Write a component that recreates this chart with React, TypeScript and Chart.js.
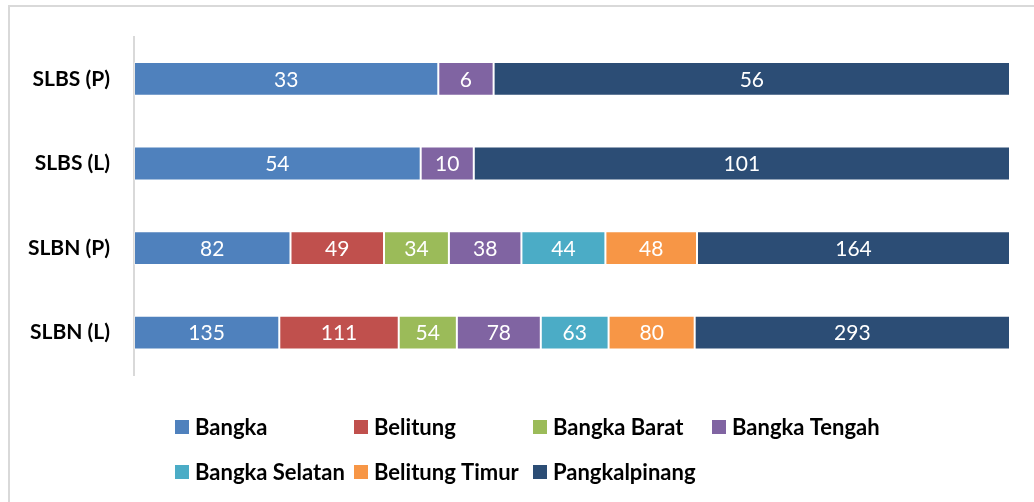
import React, { useEffect, useRef } from "react";
import { Chart, registerables } from "chart.js";

Chart.register(...registerables);

const categories = ["SLBS (P)", "SLBS (L)", "SLBN (P)", "SLBN (L)"];
const seriesNames = ["Bangka", "Belitung", "Bangka Barat", "Bangka Tengah", "Bangka Selatan", "Belitung Timur", "Pangkalpinang"];
const bangka = [33, 54, 82, 135];
const belitung = [0, 0, 49, 111];
const bangkaBarat = [0, 0, 34, 54];
const bangkaTengah = [6, 10, 38, 78];
const bangkaSelatan = [0, 0, 44, 63];
const belitungTimur = [0, 0, 48, 80];
const pangkalpinang = [56, 101, 164, 293];
const seriesColors = ["#4F81BD", "#C0504D", "#9BBB59", "#8064A2", "#4BACC6", "#F79646", "#2C4D75"];

const allSeries = [bangka, belitung, bangkaBarat, bangkaTengah, bangkaSelatan, belitungTimur, pangkalpinang];
const totals = categories.map((_, i) => allSeries.reduce((s, arr) => s + arr[i], 0));

const FONT = "Lato, 'Open Sans', sans-serif";

const frameAndLabels = {
  id: "frameAndLabels",
  beforeDraw(chart: any) {
    const ctx = chart.ctx;
    ctx.save();
    ctx.strokeStyle = "#D9D9D9";
    ctx.lineWidth = 2;
    ctx.beginPath();
    ctx.moveTo(9, chart.height + 2);
    ctx.lineTo(9, 6);
    ctx.lineTo(chart.width + 2, 6);
    ctx.stroke();
    ctx.restore();
  },
  afterDatasetsDraw(chart: any) {
    const ctx = chart.ctx;
    ctx.save();
    ctx.fillStyle = "#FFFFFF";
    ctx.font = `21px ${FONT}`;
    ctx.textAlign = "center";
    ctx.textBaseline = "middle";
    chart.data.datasets.forEach((ds: any, di: number) => {
      const meta = chart.getDatasetMeta(di);
      meta.data.forEach((bar: any, i: number) => {
        const raw = ds.rawValues[i];
        if (!raw) return;
        const x = (bar.x + bar.base) / 2;
        ctx.fillText(String(raw), x, bar.y + 1);
      });
    });
    ctx.restore();
  },
  afterDraw(chart: any) {
    const ctx = chart.ctx;
    const cols = [175, 354, 533, 712];
    const rows = [427, 472];
    ctx.save();
    ctx.font = `bold 22px ${FONT}`;
    ctx.textBaseline = "middle";
    ctx.textAlign = "left";
    seriesNames.forEach((name, i) => {
      const x = cols[i % 4];
      const y = rows[Math.floor(i / 4)];
      ctx.fillStyle = seriesColors[i];
      ctx.fillRect(x, y - 7, 14, 14);
      ctx.fillStyle = "#000000";
      ctx.fillText(name, x + 20, y + 1);
    });
    ctx.restore();
  },
};

export default function App() {
  const ref = useRef<HTMLCanvasElement>(null);
  useEffect(() => {
    const datasets = allSeries.map((arr, si) => ({
      label: seriesNames[si],
      data: arr.map((v, i) => (v / totals[i]) * 100),
      rawValues: arr,
      backgroundColor: seriesColors[si],
      borderColor: "rgba(255,255,255,0.35)",
      borderWidth: 1,
      borderSkipped: false,
      categoryPercentage: 1,
      barPercentage: 0.4,
    }));
    const chart = new Chart(ref.current as HTMLCanvasElement, {
      type: "bar",
      data: { labels: categories, datasets: datasets as any },
      options: {
        indexAxis: "y",
        animation: false,
        responsive: false,
        maintainAspectRatio: false,
        layout: { padding: { top: 35, right: 24, bottom: 127, left: 0 } },
        plugins: { legend: { display: false }, tooltip: { enabled: false }, title: { display: false } },
        scales: {
          x: { stacked: true, min: 0, max: 100, display: false },
          y: {
            stacked: true,
            grid: { display: false, drawTicks: false },
            border: { display: true, color: "#D9D9D9", width: 2 },
            ticks: { color: "#000000", font: { family: FONT, size: 21, weight: "bold" }, padding: 24 },
            afterFit(scale: any) {
              scale.width = 134;
            },
          },
        },
      } as any,
      plugins: [frameAndLabels],
    });
    return () => chart.destroy();
  }, []);
  return (
    <div style={{ position: "fixed", left: 0, top: 0, width: 1034, height: 502, background: "#fff" }}>
      <canvas ref={ref} width={1034} height={502} style={{ display: "block" }} />
    </div>
  );
}
